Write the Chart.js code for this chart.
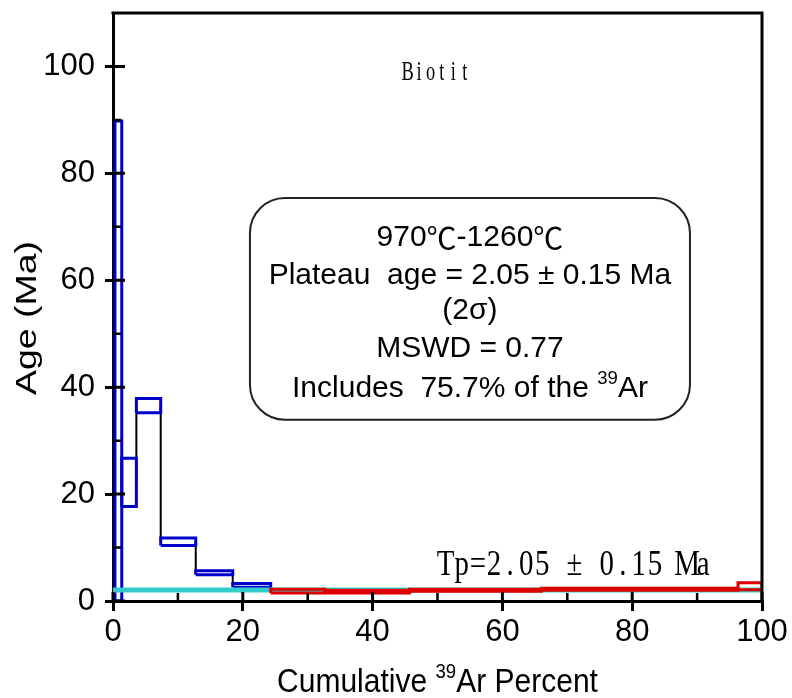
<!DOCTYPE html>
<html>
<head>
<meta charset="utf-8">
<script src="https://cdn.jsdelivr.net/npm/chart.js@4.4.1/dist/chart.umd.min.js"></script>
<style>
  body { margin: 0; background: #fff; }
  canvas { display: block; }
</style>
</head>
<body>
<canvas id="myChart" width="792" height="698"></canvas>
<script>
// Hranice krokov (kumulatívne % 39Ar) a rozsah veku (Ma) pre každý krok
const hraniceKrokov = [0.3, 1.35, 3.6, 7.35, 12.75, 18.45, 24.3, 32.6, 45.7, 66.0, 96.3, 100];
const vekDolny = [0, 17.7, 35.2, 10.4, 4.9, 2.58, 1.5, 1.5, 1.82, 2.0, 2.12];
const vekHorny = [89.8, 26.7, 37.9, 11.8, 5.65, 3.27, 2.19, 2.0, 2.18, 2.38, 3.42];
const plato = [false, false, false, false, false, false, true, true, true, true, true];
const platoVek = 2.05;

const xTicky = [0, 20, 40, 60, 80, 100];
const yTicky = [0, 20, 40, 60, 80, 100];
const xMinor = [10, 30, 50, 70, 90];
const yMinor = [10, 30, 50, 70, 90];

const popisY = "Age (Ma)";
const nazovVzorky = "Biotit";
const tpText = "Tp=2.05 ± 0.15 Ma";

// Vytvorenie datasetov - každý krok je obdĺžnik
let datasety = [];
for (let i = 0; i < vekDolny.length; i++) {
    const x0 = hraniceKrokov[i], x1 = hraniceKrokov[i + 1];
    datasety.push({
        data: [
            { x: x0, y: vekDolny[i] }, { x: x1, y: vekDolny[i] },
            { x: x1, y: vekHorny[i] }, { x: x0, y: vekHorny[i] },
            { x: x0, y: vekDolny[i] }
        ],
        borderColor: plato[i] ? "#e00000" : "#0000cc",
        borderWidth: 3,
        borderJoinStyle: "miter",
        order: plato[i] ? 0 : 2
    });
}

// Čierne spojnice medzi stredmi krokov (prvý krok bez spojnice)
let spojnice = [];
for (let i = 1; i < vekDolny.length - 1; i++) {
    const b = hraniceKrokov[i + 1];
    spojnice.push({ x: b, y: (vekDolny[i] + vekHorny[i]) / 2 });
    spojnice.push({ x: b, y: (vekDolny[i + 1] + vekHorny[i + 1]) / 2 });
    spojnice.push({ x: b, y: null });
}
datasety.push({ data: spojnice, borderColor: "#000", borderWidth: 2, spanGaps: false, order: 3 });

// Plató čiara
datasety.push({
    data: [{ x: 0, y: platoVek }, { x: 100, y: platoVek }],
    borderColor: "#33cccc", borderWidth: 5, order: 1
});

const pismo = "'Liberation Sans', Arial, sans-serif";
const pismoCJK = "'Noto Sans CJK SC', sans-serif";
const pismoSerif = "'Liberation Serif', 'DejaVu Serif', serif";

// Text s pevnou šírkou znaku (serifové písmo, ako v origináli)
function napisMono(ctx, text, cx, cy, velkost, rozostup, sx, sy) {
    const znaky = [...text];
    let x = cx - znaky.length * rozostup / 2;
    ctx.save();
    ctx.font = velkost + "px " + pismoSerif;
    ctx.textAlign = "center";
    ctx.textBaseline = "middle";
    znaky.forEach(z => {
        ctx.save();
        ctx.translate(x + rozostup / 2, cy);
        ctx.scale(sx, sy);
        ctx.fillText(z, 0, 0);
        ctx.restore();
        x += rozostup;
    });
    ctx.restore();
}

// Riadok textu z viacerých častí (horný index, iné písmo), centrovaný
function riadok(ctx, casti, cx, y, velkost) {
    const fontCasti = c => (c.sup ? velkost * 0.62 : velkost) + "px " + (c.f || pismo);
    let sirka = 0;
    casti.forEach(c => {
        ctx.font = fontCasti(c);
        c.w = ctx.measureText(c.t).width;
        sirka += c.w;
    });
    let x = cx - sirka / 2;
    ctx.textAlign = "left";
    casti.forEach(c => {
        ctx.font = fontCasti(c);
        ctx.fillText(c.t, x, c.sup ? y - velkost * 0.32 : y);
        x += c.w;
    });
}

const ramcekPlugin = {
    id: "ramcek",
    afterDatasetsDraw(chart) {
        const { ctx, chartArea: a, scales: { x, y } } = chart;
        ctx.save();
        ctx.strokeStyle = "#000";
        ctx.lineCap = "butt";
        // vnútorné ticky
        ctx.lineWidth = 3;
        ctx.beginPath();
        xTicky.forEach(v => { const p = x.getPixelForValue(v); ctx.moveTo(p, a.bottom); ctx.lineTo(p, a.bottom - 9); });
        yTicky.forEach(v => { const p = y.getPixelForValue(v); ctx.moveTo(a.left, p); ctx.lineTo(a.left + 12, p); });
        ctx.stroke();
        ctx.lineWidth = 2.5;
        ctx.beginPath();
        xMinor.forEach(v => { const p = x.getPixelForValue(v); ctx.moveTo(p, a.bottom); ctx.lineTo(p, a.bottom - 8); });
        yMinor.forEach(v => { const p = y.getPixelForValue(v); ctx.moveTo(a.left, p); ctx.lineTo(a.left + 8, p); });
        ctx.stroke();
        // horný a pravý okraj
        ctx.lineWidth = 3;
        ctx.beginPath();
        ctx.moveTo(a.left - 1.5, a.top);
        ctx.lineTo(a.right, a.top);
        ctx.lineTo(a.right, a.bottom + 1.5);
        ctx.stroke();
        ctx.restore();
    },
    afterDraw(chart) {
        const { ctx, chartArea: a, scales: { x, y } } = chart;
        ctx.save();
        ctx.fillStyle = "#000";

        // zaoblený rámik s výsledkami
        const l = x.getPixelForValue(21.1), r = x.getPixelForValue(88.9);
        const t = y.getPixelForValue(75.4), b = y.getPixelForValue(33.9);
        const rad = 35;
        ctx.strokeStyle = "#222";
        ctx.lineWidth = 2;
        ctx.beginPath();
        ctx.moveTo(l + rad, t);
        ctx.arcTo(r, t, r, b, rad);
        ctx.arcTo(r, b, l, b, rad);
        ctx.arcTo(l, b, l, t, rad);
        ctx.arcTo(l, t, r, t, rad);
        ctx.closePath();
        ctx.stroke();

        const cx = x.getPixelForValue(55.0);
        const fs = 30;
        ctx.textBaseline = "middle";
        riadok(ctx, [{ t: "970" }, { t: "℃", f: pismoCJK }, { t: "-1260" }, { t: "℃", f: pismoCJK }], cx, y.getPixelForValue(67.9), fs);
        riadok(ctx, [{ t: "Plateau  age = 2.05 ± 0.15 Ma" }], cx, y.getPixelForValue(60.8), fs);
        riadok(ctx, [{ t: "(2σ)" }], cx, y.getPixelForValue(54.3), fs);
        riadok(ctx, [{ t: "MSWD = 0.77" }], cx, y.getPixelForValue(47.2), fs);
        riadok(ctx, [{ t: "Includes  75.7% of the " }, { t: "39", sup: true }, { t: "Ar" }], cx, y.getPixelForValue(39.7), fs);

        // Biotit a Tp
        napisMono(ctx, nazovVzorky, x.getPixelForValue(49.8), y.getPixelForValue(98.8), 27, 11.4, 0.68, 1.05);
        napisMono(ctx, tpText, x.getPixelForValue(71.1), y.getPixelForValue(6.6), 34, 16.1, 0.85, 1.05);

        // názvy osí
        ctx.save();
        ctx.translate((a.left + a.right) / 2, 683);
        ctx.scale(1, 1.12);
        riadok(ctx, [{ t: "Cumulative " }, { t: "39", sup: true }, { t: "Ar Percent" }], 0, 0, 30);
        ctx.restore();

        ctx.save();
        ctx.translate(28, 318);
        ctx.rotate(-Math.PI / 2);
        ctx.scale(1.25, 1);
        ctx.textAlign = "center";
        ctx.font = "30px " + pismo;
        ctx.fillText(popisY, 0, 0);
        ctx.restore();

        ctx.restore();
    }
};

const tickFont = { family: pismo, size: 31 };

const ctx = document.getElementById("myChart").getContext("2d");
const myChart = new Chart(ctx, {
    type: "scatter",
    data: { datasets: datasety },
    options: {
        responsive: false,
        animation: false,
        devicePixelRatio: 1,
        showLine: true,
        elements: { point: { radius: 0, hoverRadius: 0 }, line: { tension: 0, fill: false } },
        layout: { padding: { top: 13, right: 30, left: 0, bottom: 0 } },
        plugins: { legend: { display: false }, tooltip: { enabled: false } },
        scales: {
            x: {
                type: "linear", min: 0, max: 100,
                afterBuildTicks: s => { s.ticks = xTicky.map(v => ({ value: v })); },
                afterFit: s => { s.height = 97; s.paddingLeft = 0; s.paddingRight = 0; },
                grid: { drawOnChartArea: false, drawTicks: true, tickLength: 10, color: "#000", lineWidth: 3 },
                border: { color: "#000", width: 3 },
                ticks: { font: tickFont, color: "#000", padding: 3, maxRotation: 0, autoSkip: false }
            },
            y: {
                type: "linear", min: 0, max: 110,
                afterBuildTicks: s => { s.ticks = yTicky.map(v => ({ value: v })); },
                afterFit: s => { s.width = 113; s.paddingTop = 0; s.paddingBottom = 0; },
                grid: { drawOnChartArea: false, drawTicks: true, tickLength: 8, color: "#000", lineWidth: 3 },
                border: { color: "#000", width: 3 },
                ticks: { font: tickFont, color: "#000", padding: 10, autoSkip: false }
            }
        }
    },
    plugins: [ramcekPlugin]
});
</script>
</body>
</html>
